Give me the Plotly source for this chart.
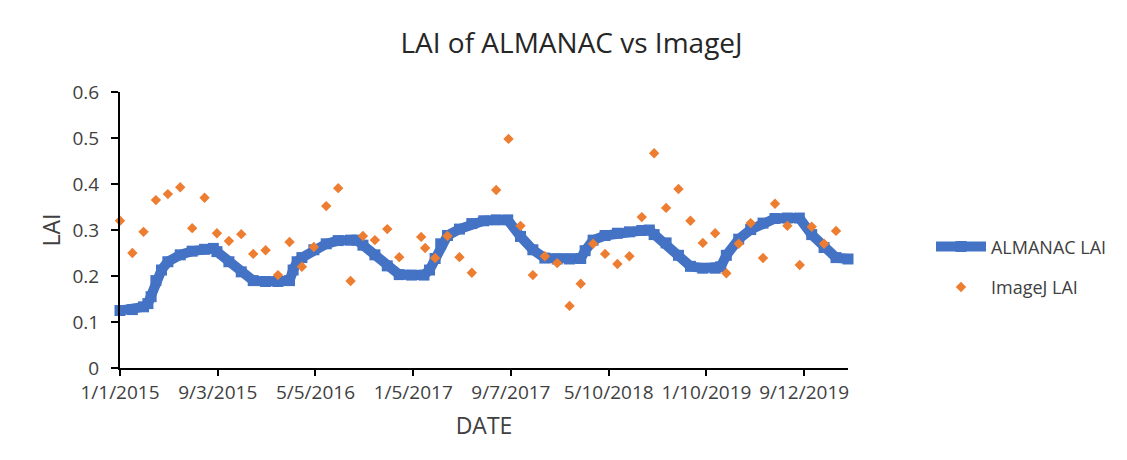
import plotly.graph_objects as go
from datetime import datetime

# ALMANAC simulated LAI
almanac_dates = [
    "2015-01-01", "2015-02-01", "2015-03-01", "2015-03-12", "2015-03-20", "2015-04-01",
    "2015-04-15", "2015-05-01", "2015-06-01", "2015-07-01", "2015-08-01", "2015-08-23",
    "2015-09-01", "2015-10-01", "2015-11-01", "2015-12-01", "2016-01-01", "2016-02-01",
    "2016-03-01", "2016-03-10", "2016-03-20", "2016-04-01", "2016-05-01", "2016-06-01",
    "2016-07-01", "2016-08-01", "2016-08-17", "2016-09-01", "2016-10-01", "2016-11-01",
    "2016-12-01", "2017-01-01", "2017-02-01", "2017-02-15", "2017-03-01", "2017-03-15",
    "2017-04-01", "2017-05-01", "2017-06-01", "2017-07-01", "2017-08-01", "2017-08-30",
    "2017-10-01", "2017-11-01", "2017-12-01", "2018-01-01", "2018-02-01", "2018-03-01",
    "2018-03-12", "2018-04-01", "2018-05-01", "2018-06-01", "2018-07-01", "2018-08-01",
    "2018-08-20", "2018-09-01", "2018-10-01", "2018-11-01", "2018-12-01", "2019-01-01",
    "2019-02-01", "2019-02-15", "2019-03-01", "2019-04-01", "2019-05-01", "2019-06-01",
    "2019-07-01", "2019-08-01", "2019-08-31", "2019-10-01", "2019-11-01", "2019-12-01",
    "2019-12-31",
]
almanac_lai = [
    0.125, 0.127, 0.133, 0.140, 0.155, 0.190,
    0.213, 0.231, 0.246, 0.254, 0.258, 0.260,
    0.253, 0.231, 0.209, 0.190, 0.188, 0.188,
    0.190, 0.213, 0.231, 0.240, 0.257, 0.270,
    0.277, 0.278, 0.278, 0.267, 0.246, 0.222,
    0.203, 0.202, 0.202, 0.213, 0.238, 0.270,
    0.288, 0.302, 0.314, 0.320, 0.322, 0.322,
    0.286, 0.257, 0.239, 0.237, 0.237, 0.238,
    0.255, 0.278, 0.288, 0.293, 0.296, 0.299,
    0.300, 0.290, 0.272, 0.245, 0.221, 0.217,
    0.217, 0.220, 0.245, 0.280, 0.301, 0.315,
    0.325, 0.326, 0.326, 0.290, 0.262, 0.240,
    0.237,
]

# ImageJ measured LAI
imagej_dates = [
    "2015-01-01", "2015-02-01", "2015-03-01", "2015-04-01", "2015-05-01", "2015-06-01",
    "2015-07-01", "2015-08-01", "2015-09-01", "2015-10-01", "2015-11-01", "2015-12-01",
    "2016-01-01", "2016-02-01", "2016-03-01", "2016-04-01", "2016-05-01", "2016-06-01",
    "2016-07-01", "2016-08-01", "2016-09-01", "2016-10-01", "2016-11-01", "2016-12-01",
    "2017-01-25", "2017-02-04", "2017-03-01", "2017-04-01", "2017-05-01", "2017-06-01",
    "2017-08-01", "2017-09-01", "2017-10-01", "2017-11-01", "2017-12-01", "2018-01-01",
    "2018-02-01", "2018-03-01", "2018-04-01", "2018-05-01", "2018-06-01", "2018-07-01",
    "2018-08-01", "2018-09-01", "2018-10-01", "2018-11-01", "2018-12-01", "2019-01-01",
    "2019-02-01", "2019-03-01", "2019-04-01", "2019-05-01", "2019-06-01", "2019-07-01",
    "2019-08-01", "2019-09-01", "2019-10-01", "2019-11-01", "2019-12-01",
]
imagej_lai = [
    0.320, 0.250, 0.296, 0.365, 0.378, 0.393,
    0.304, 0.370, 0.293, 0.276, 0.291, 0.248,
    0.256, 0.202, 0.274, 0.220, 0.263, 0.352,
    0.391, 0.189, 0.287, 0.278, 0.302, 0.241,
    0.285, 0.261, 0.239, 0.287, 0.241, 0.207,
    0.387, 0.498, 0.309, 0.202, 0.243, 0.228,
    0.135, 0.183, 0.270, 0.248, 0.226, 0.243,
    0.328, 0.467, 0.348, 0.389, 0.320, 0.272,
    0.293, 0.206, 0.270, 0.315, 0.239, 0.357,
    0.309, 0.224, 0.307, 0.270, 0.298,
]

# x-axis tick dates (every 245 days)
tick_dates = ["2015-01-01", "2015-09-03", "2016-05-05", "2017-01-05",
              "2017-09-07", "2018-05-10", "2019-01-10", "2019-09-12"]
tick_text = [f"{d.month}/{d.day}/{d.year}"
             for d in (datetime.strptime(t, "%Y-%m-%d") for t in tick_dates)]

font_name = "Open Sans"
text_col = "#404040"

fig = go.Figure()
fig.add_trace(go.Scatter(
    x=almanac_dates, y=almanac_lai, name="ALMANAC LAI", legendgroup="a",
    mode="lines+markers", cliponaxis=False,
    line=dict(color="#4472C4", width=10),
    marker=dict(symbol="square", size=11, color="#4472C4"),
))
fig.add_trace(go.Scatter(
    x=imagej_dates, y=imagej_lai, name="ImageJ LAI", legendgroup="b",
    mode="markers", cliponaxis=False,
    marker=dict(symbol="diamond", size=8, color="#ED7D31"),
))

# the page body adds an 8px offset, so margins are shifted to compensate
fig.update_layout(
    width=1127, height=460,
    margin=dict(l=112, r=287, t=84, b=100),
    paper_bgcolor="white", plot_bgcolor="white",
    font=dict(family=font_name, size=19, color=text_col),
    title=dict(text="LAI of ALMANAC vs ImageJ", x=0.5, xanchor="center",
               y=0.924, yanchor="middle",
               font=dict(family=font_name, size=28, color="#262626")),
    legend=dict(x=1.114, xanchor="left", y=0.506, yanchor="top",
                font=dict(size=18, color=text_col), itemwidth=50,
                tracegroupgap=14, bgcolor="rgba(0,0,0,0)"),
    showlegend=True,
)
fig.update_xaxes(
    type="date", range=["2015-01-01", "2019-12-31"], automargin=False,
    tickmode="array", tickvals=tick_dates, ticktext=tick_text,
    showgrid=False, zeroline=False,
    showline=True, linecolor="black", linewidth=2,
    ticks="outside", ticklen=6, tickwidth=2, tickcolor="black",
    title=dict(text="DATE", standoff=14),
)
fig.update_yaxes(
    range=[0, 0.6], dtick=0.1, automargin=False,
    showgrid=False, zeroline=False,
    showline=True, linecolor="black", linewidth=2,
    ticks="outside", ticklen=7, tickwidth=2, tickcolor="black",
    ticklabelstandoff=8,
    title=dict(text="LAI", standoff=5),
)

# faint chart-area border on the left edge
fig.add_shape(type="line", xref="paper", yref="paper",
              x0=-0.158, x1=-0.158, y0=-0.4, y1=1.4,
              line=dict(color="#D9D9D9", width=1))

fig.write_html("out.html")
